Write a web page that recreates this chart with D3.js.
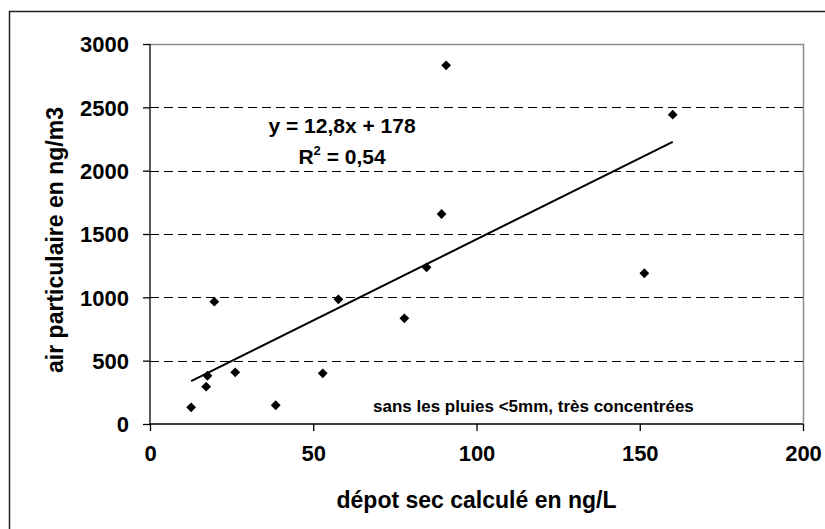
<!DOCTYPE html>
<html>
<head>
<meta charset="utf-8">
<script src="https://cdn.jsdelivr.net/npm/d3@7/dist/d3.min.js"></script>
<style>
  html, body { margin: 0; padding: 0; background: #fff; }
  svg { display: block; }
  text { font-family: "Liberation Sans", Arial, sans-serif; font-weight: bold; fill: #000; }
</style>
</head>
<body>
<svg id="chart" width="825" height="529"></svg>
<script>
// Data
const depotSec = [12.6, 17.2, 17.6, 19.7, 26.1, 38.5, 52.9, 57.7, 77.9, 84.7, 89.3, 90.7, 160.1, 151.4];
const airPart  = [132, 295, 381, 966, 408, 148, 400, 984, 834, 1237, 1658, 2832, 2442, 1190];
const xTicks = [0, 50, 100, 150, 200];
const yTicks = [0, 500, 1000, 1500, 2000, 2500, 3000];
const slope = 12.8, intercept = 178;
const eqLabel = "y = 12,8x + 178";
const r2Label = "0,54";
const noteLabel = "sans les pluies <5mm, très concentrées";
const xTitle = "dépot sec calculé en ng/L";
const yTitle = "air particulaire en ng/m3";

const svg = d3.select("#chart");
const W = 825, H = 529;
const L = 150, R = 803, T = 44, B = 424;

// Outer frame (extends beyond right/bottom)
svg.append("rect").attr("x", 9.5).attr("y", 11.5).attr("width", 840).attr("height", 540)
  .attr("fill", "none").attr("stroke", "#222").attr("stroke-width", 1.5);

const x = d3.scaleLinear().domain([0, 200]).range([L, R]);
const y = d3.scaleLinear().domain([0, 3000]).range([B, T]);

// Plot area border (top/right gray)
svg.append("path")
  .attr("d", `M${L},${T + 0.5}H${R + 0.5}V${B}`)
  .attr("fill", "none").attr("stroke", "#8c8c8c").attr("stroke-width", 1.5);

// Gridlines
svg.append("g").selectAll("line").data(yTicks.filter(v => v > 0 && v < 3000)).join("line")
  .attr("x1", L).attr("x2", R)
  .attr("y1", d => Math.round(y(d)) + 0.5).attr("y2", d => Math.round(y(d)) + 0.5)
  .attr("stroke", "#000").attr("stroke-width", 1).attr("stroke-dasharray", "9,5");

// Y axis
const yAxis = d3.axisLeft(y).tickValues(yTicks).tickSize(7).tickPadding(14).tickFormat(d3.format("d"));
const gy = svg.append("g").attr("transform", `translate(${L},0)`).call(yAxis);
gy.select(".domain").attr("stroke", "#000").attr("stroke-width", 1.3).attr("d", `M0,${T}V${B}`);
gy.selectAll(".tick line").attr("stroke", "#000").attr("stroke-width", 1.3);
gy.selectAll(".tick text").attr("font-size", 22).attr("font-family", null).attr("dy", "0.36em");

// X axis
const xAxis = d3.axisBottom(x).tickValues(xTicks).tickSize(7).tickPadding(14).tickFormat(d3.format("d"));
const gx = svg.append("g").attr("transform", `translate(0,${B})`).call(xAxis);
gx.select(".domain").attr("stroke", "#000").attr("stroke-width", 1.5).attr("d", `M${L},0H${R}`);
gx.selectAll(".tick line").attr("stroke", "#000").attr("stroke-width", 1.3);
gx.selectAll(".tick text").attr("font-size", 22).attr("font-family", null).attr("dy", "0.71em");

// Trend line
const xMin = d3.min(depotSec), xMax = d3.max(depotSec);
svg.append("line")
  .attr("x1", x(xMin)).attr("y1", y(slope * xMin + intercept))
  .attr("x2", x(xMax)).attr("y2", y(slope * xMax + intercept))
  .attr("stroke", "#000").attr("stroke-width", 2);

// Points
const diamond = d3.symbol().type(d3.symbolSquare).size(48);
svg.append("g").selectAll("path").data(depotSec.map((d, i) => [d, airPart[i]])).join("path")
  .attr("d", diamond)
  .attr("transform", d => `translate(${x(d[0])},${y(d[1])}) rotate(45)`)
  .attr("fill", "#000");

// Equation
svg.append("text").attr("x", 342).attr("y", 133).attr("text-anchor", "middle")
  .attr("font-size", 21).text(eqLabel);
const r2 = svg.append("text").attr("x", 342).attr("y", 164).attr("text-anchor", "middle").attr("font-size", 21);
r2.append("tspan").text("R");
r2.append("tspan").attr("font-size", 13).attr("dy", -9).text("2");
r2.append("tspan").attr("dy", 9).text(" = " + r2Label);

// Note
svg.append("text").attr("x", 373).attr("y", 411.5).attr("font-size", 17).text(noteLabel);

// Axis titles
svg.append("text").attr("x", (L + R) / 2).attr("y", 508).attr("text-anchor", "middle")
  .attr("font-size", 23).text(xTitle);
svg.append("text").attr("transform", `translate(63,240) rotate(-90)`).attr("text-anchor", "middle")
  .attr("font-size", 23).text(yTitle);
</script>
</body>
</html>
